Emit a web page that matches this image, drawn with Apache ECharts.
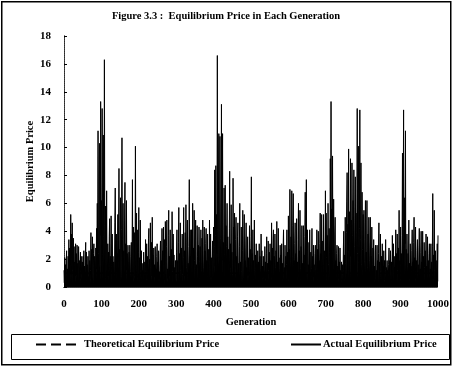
<!DOCTYPE html>
<html>
<head>
<meta charset="utf-8">
<script src="https://cdn.jsdelivr.net/npm/echarts@6/dist/echarts.min.js"></script>
<style>
  html, body { margin: 0; padding: 0; background: #fff; }
  #chart { width: 452px; height: 366px; }
</style>
</head>
<body>
<div id="chart"></div>
<script>
// axis ticks
const generationTicks = [0, 100, 200, 300, 400, 500, 600, 700, 800, 900, 1000];
const priceTicks = [0, 2, 4, 6, 8, 10, 12, 14, 16, 18];

// theoretical equilibrium price (flat)
const theoreticalPrice = 1.0;

// actual equilibrium price, generation 0..1000
const actualPrice = [
  1.2, 0.3, 2.1, 0.5, 1.6, 0.2, 1.9, 2.6, 0.4, 1.3, 0.2, 2.2, 0.6, 3.4, 0.3, 2.8, 1.1, 0.2, 5.2, 0.9,
  3.8, 0.4, 4.6, 1.2, 0.3, 3.5, 0.6, 2.9, 0.2, 1.8, 0.8, 3.1, 0.3, 2.4, 0.9, 3.0, 0.4, 1.7, 0.2, 2.9,
  2.8, 0.3, 1.9, 0.6, 2.5, 0.2, 2.2, 1.0, 0.5, 1.8, 0.3, 2.2, 0.7, 2.6, 0.2, 1.5, 0.4, 2.3, 3.2, 0.6,
  2.5, 0.4, 1.6, 0.3, 2.2, 0.8, 0.2, 2.6, 0.5, 1.9, 0.2, 1.2, 3.9, 0.6, 2.7, 0.3, 3.6, 1.0, 0.2, 2.4,
  3.1, 0.4, 2.2, 1.5, 0.3, 2.8, 0.6, 4.2, 1.3, 6.0, 0.5, 11.2, 2.4, 0.8, 7.9, 10.3, 1.6, 0.4, 13.3, 3.7,
  6.2, 0.9, 12.8, 2.3, 0.5, 10.9, 3.6, 1.2, 16.3, 4.4, 0.3, 5.8, 2.1, 0.7, 6.9, 1.4, 0.2, 3.1, 0.8, 2.5,
  0.4, 3.6, 4.9, 0.6, 2.2, 0.3, 5.1, 1.5, 0.2, 3.8, 0.7, 2.2, 0.4, 1.8, 0.9, 0.3, 4.6, 7.1, 0.5, 2.9,
  3.8, 0.3, 2.4, 1.1, 5.2, 0.4, 3.3, 8.5, 0.6, 2.7, 0.2, 6.4, 1.3, 0.5, 4.1, 10.7, 0.8, 3.4, 6.0, 0.3,
  2.6, 0.5, 4.8, 7.5, 0.4, 3.1, 1.2, 6.2, 0.3, 2.4, 0.7, 3.0, 0.2, 1.8, 2.5, 0.4, 3.0, 1.1, 0.3, 2.2,
  3.2, 0.4, 1.9, 7.7, 0.6, 2.8, 4.3, 0.3, 1.5, 3.9, 0.8, 10.1, 2.6, 0.4, 5.3, 1.2, 0.3, 4.1, 0.7, 2.5,
  5.7, 0.5, 2.1, 0.3, 4.8, 1.3, 0.4, 2.6, 0.2, 1.7, 0.6, 1.2, 0.3, 2.5, 0.9, 0.2, 1.8, 0.5, 3.4, 1.0,
  0.3, 3.1, 0.6, 2.2, 0.4, 1.7, 3.5, 4.2, 0.5, 2.0, 0.3, 4.6, 1.4, 0.4, 3.2, 0.8, 5.0, 0.3, 2.3, 0.6,
  2.8, 0.3, 1.6, 0.7, 2.9, 0.2, 1.3, 0.5, 2.2, 3.1, 0.4, 1.8, 0.3, 2.6, 0.6, 1.1, 0.3, 2.4, 3.3, 0.5,
  1.9, 0.4, 4.2, 0.7, 2.6, 0.3, 4.3, 1.5, 0.5, 3.4, 0.2, 4.7, 1.8, 0.4, 2.9, 4.8, 0.6, 1.3, 0.3, 3.7,
  5.5, 0.4, 2.2, 0.8, 4.1, 0.3, 1.6, 2.7, 0.5, 5.4, 1.1, 0.3, 3.8, 0.6, 2.3, 0.2, 1.4, 0.4, 1.9, 0.7,
  0.3, 2.5, 4.1, 0.6, 1.9, 0.4, 3.2, 5.7, 0.5, 2.4, 0.3, 4.6, 1.2, 0.4, 2.8, 0.2, 3.8, 0.9, 0.3, 2.1,
  5.7, 0.4, 2.6, 0.8, 3.9, 0.3, 5.9, 1.4, 0.5, 3.2, 4.8, 0.3, 1.7, 0.6, 2.9, 7.7, 0.4, 2.2, 0.7, 4.1,
  0.3, 4.1, 1.5, 0.4, 6.0, 0.6, 2.8, 0.3, 5.5, 1.9, 0.5, 3.3, 4.8, 0.4, 1.6, 0.3, 4.4, 2.2, 0.5, 3.0,
  0.4, 4.3, 1.8, 0.3, 2.9, 0.6, 4.1, 1.2, 0.4, 3.5, 0.3, 4.8, 2.0, 0.5, 1.4, 4.3, 0.3, 2.6, 0.7, 3.1,
  4.2, 0.4, 1.9, 0.3, 3.8, 1.1, 0.5, 2.7, 0.3, 4.8, 1.6, 0.4, 3.8, 0.7, 2.1, 0.3, 1.5, 3.3, 0.5, 2.4,
  4.3, 0.6, 2.9, 8.4, 1.5, 3.7, 8.7, 0.9, 5.2, 2.4, 16.6, 4.1, 1.3, 6.6, 11.0, 2.8, 0.8, 10.8, 3.5, 1.6,
  5.4, 13.1, 1.9, 4.6, 11.0, 0.9, 3.2, 0.6, 7.1, 2.3, 0.5, 7.3, 1.7, 4.4, 0.4, 2.9, 6.0, 0.8, 3.6, 0.3,
  2.7, 0.5, 4.2, 8.3, 0.7, 3.1, 1.4, 5.9, 0.4, 2.5, 0.9, 0.3, 7.8, 1.6, 4.3, 0.5, 5.3, 1.2, 0.3, 3.4,
  5.0, 0.4, 2.2, 0.8, 3.6, 4.6, 0.3, 1.7, 0.6, 2.9, 6.0, 0.4, 1.8, 0.5, 4.3, 1.1, 0.3, 2.6, 5.5, 0.7,
  0.4, 3.3, 5.2, 0.6, 1.9, 0.3, 2.8, 4.6, 0.5, 1.4, 0.3, 3.6, 0.8, 2.1, 0.4, 1.5, 4.4, 0.6, 2.7, 0.3,
  3.6, 7.9, 0.5, 2.4, 0.8, 4.1, 0.3, 1.9, 0.6, 4.8, 1.2, 0.4, 2.3, 0.3, 3.1, 0.7, 1.6, 0.3, 2.6, 0.5,
  1.8, 0.3, 3.1, 0.6, 2.2, 0.4, 1.3, 3.8, 0.5, 2.6, 0.3, 1.5, 0.7, 2.2, 0.4, 1.1, 0.3, 2.9, 0.6, 1.8,
  0.4, 2.4, 3.6, 0.5, 1.7, 0.3, 3.3, 1.2, 0.4, 2.5, 0.6, 3.1, 0.3, 1.9, 0.7, 4.6, 0.4, 2.8, 0.3, 3.5,
  4.1, 0.5, 2.2, 0.3, 3.8, 1.4, 0.4, 2.6, 0.6, 4.7, 0.3, 1.8, 0.5, 4.2, 0.8, 2.1, 0.3, 1.3, 3.0, 0.5,
  2.3, 0.4, 3.1, 0.6, 1.7, 0.3, 2.8, 4.1, 0.5, 1.4, 0.3, 3.0, 0.7, 2.2, 0.4, 1.6, 4.1, 0.5, 2.5, 0.3,
  5.1, 0.6, 2.7, 0.4, 7.0, 1.8, 0.5, 3.6, 0.3, 6.9, 2.2, 0.6, 4.4, 6.7, 0.4, 1.9, 0.3, 3.1, 4.6, 0.5,
  2.4, 0.4, 4.9, 0.7, 1.8, 0.3, 3.4, 6.0, 0.5, 2.6, 0.4, 5.5, 1.3, 0.3, 2.9, 0.6, 4.4, 0.4, 1.7, 0.3,
  4.4, 0.5, 2.3, 0.3, 3.6, 6.8, 0.6, 1.5, 7.7, 0.4, 2.2, 4.1, 0.3, 1.6, 0.7, 3.2, 0.4, 4.1, 1.1, 0.3,
  2.5, 0.4, 1.3, 4.2, 0.5, 2.2, 0.3, 3.0, 0.7, 1.6, 0.3, 2.4, 3.0, 0.5, 1.2, 0.3, 4.1, 0.6, 2.7, 0.4,
  4.0, 0.3, 1.9, 0.6, 3.1, 5.3, 0.4, 2.4, 0.3, 5.2, 1.5, 0.5, 3.3, 0.3, 5.2, 1.8, 0.4, 2.6, 0.5, 6.9,
  0.6, 5.3, 2.1, 0.4, 3.7, 0.8, 6.0, 1.6, 0.4, 4.2, 2.5, 0.5, 9.2, 3.1, 13.3, 1.2, 5.6, 0.7, 9.4, 2.3,
  0.5, 6.3, 1.4, 0.3, 3.8, 5.0, 0.6, 1.9, 0.3, 2.4, 3.0, 0.4, 1.5, 0.6, 2.9, 0.3, 1.8, 0.5, 2.8, 0.4,
  1.2, 0.3, 1.8, 0.5, 0.9, 1.6, 0.4, 2.8, 4.0, 0.6, 2.3, 0.4, 5.0, 1.7, 0.5, 3.9, 6.1, 8.2, 0.8, 4.5,
  2.6, 9.9, 0.7, 5.4, 3.1, 0.6, 9.2, 2.2, 4.8, 0.5, 8.9, 3.7, 1.3, 6.2, 0.6, 8.4, 2.9, 0.4, 4.6, 7.9,
  1.5, 5.3, 0.8, 3.9, 12.8, 2.4, 0.7, 6.6, 10.1, 1.8, 4.2, 12.7, 0.9, 3.4, 8.9, 1.6, 0.5, 6.8, 2.7, 0.6,
  5.2, 0.4, 5.5, 1.8, 0.5, 3.4, 6.2, 0.6, 2.5, 0.3, 6.2, 1.4, 0.5, 3.8, 0.3, 5.0, 1.9, 0.4, 2.8, 5.0,
  0.5, 2.2, 0.3, 4.3, 1.6, 0.4, 2.8, 0.6, 3.4, 0.3, 1.5, 0.5, 2.6, 3.0, 0.4, 1.2, 0.3, 3.0, 0.7, 1.9,
  0.3, 2.4, 4.6, 0.5, 1.8, 0.3, 3.8, 1.1, 0.4, 2.2, 0.3, 3.1, 0.6, 1.5, 0.3, 2.6, 0.5, 1.9, 0.3, 1.2,
  3.4, 0.6, 1.4, 0.5, 1.9, 0.7, 1.2, 0.6, 1.6, 2.8, 0.5, 1.9, 0.4, 2.6, 1.0, 0.3, 1.8, 0.5, 3.7, 0.4,
  1.6, 3.1, 0.3, 2.2, 0.5, 1.4, 0.3, 4.1, 0.6, 2.4, 0.4, 3.8, 1.2, 0.3, 2.8, 0.5, 5.5, 0.4, 1.9, 0.3,
  4.3, 0.6, 2.4, 0.5, 3.7, 9.6, 1.3, 4.8, 12.7, 2.2, 0.6, 6.4, 3.1, 11.2, 0.9, 2.7, 0.4, 3.8, 1.5, 0.3,
  2.4, 0.5, 4.8, 0.3, 1.7, 0.6, 3.1, 0.4, 1.5, 0.3, 2.6, 4.1, 0.5, 1.8, 0.3, 3.2, 5.0, 0.4, 2.1, 0.6,
  4.3, 0.3, 1.9, 0.5, 2.6, 3.4, 0.4, 1.6, 0.3, 2.8, 4.2, 0.5, 1.3, 0.3, 2.5, 4.0, 0.6, 1.8, 0.4, 4.0,
  0.5, 2.2, 0.3, 3.2, 1.4, 0.4, 2.6, 0.3, 3.8, 0.7, 1.5, 0.4, 3.6, 0.3, 1.9, 0.5, 2.4, 3.1, 0.4, 1.3,
  0.3, 3.1, 0.5, 1.8, 0.4, 2.9, 6.7, 0.6, 2.3, 0.3, 5.5, 1.2, 0.4, 2.6, 0.3, 1.9, 0.5, 1.4, 3.1, 0.4,
  3.7
];

const seriesNames = ['Theoretical Equilibrium Price', 'Actual Equilibrium Price'];

const FONT = 'Liberation Serif, Times New Roman, serif';
const textBold = { fontFamily: FONT, fontWeight: 'bold', color: '#000' };

const chart = echarts.init(document.getElementById('chart'), null, { renderer: 'canvas' });

const xMin = generationTicks[0];
const xMax = generationTicks[generationTicks.length - 1];
const yMin = priceTicks[0];
const yMax = priceTicks[priceTicks.length - 1];

// legend: plain line samples, no marker
const legendBase = {
  top: 339,
  padding: 0,
  itemHeight: 2,
  itemStyle: { opacity: 0 },
  textStyle: { ...textBold, fontSize: 10.5 }
};

const option = {
  backgroundColor: '#fff',
  animation: false,
  title: {
    text: 'Figure 3.3 :  Equilibrium Price in Each Generation',
    left: 'center',
    top: 6,
    textStyle: { ...textBold, fontSize: 10.5 }
  },
  grid: { left: 64, right: 14, top: 36, bottom: 79, containLabel: false },
  legend: [
    { ...legendBase, data: [seriesNames[0]], left: 35, itemWidth: 40,
      textStyle: { ...legendBase.textStyle, padding: [0, 0, 0, 3] } },
    { ...legendBase, data: [seriesNames[1]], left: 290, itemWidth: 30,
      textStyle: { ...legendBase.textStyle, padding: [0, 0, 0, -3] } }
  ],
  xAxis: [
    {
      type: 'value',
      min: xMin,
      max: xMax,
      interval: 100,
      name: 'Generation',
      nameLocation: 'middle',
      nameGap: 30,
      nameTextStyle: { ...textBold, fontSize: 10.5 },
      axisLine: { show: true, lineStyle: { color: '#000', width: 1, type: 'dotted' } },
      axisTick: { show: false },
      axisLabel: { ...textBold, fontSize: 11, margin: 12, formatter: v => String(v) },
      splitLine: { show: false }
    },
    {
      type: 'value',
      position: 'top',
      min: xMin,
      max: xMax,
      axisLine: { show: true, lineStyle: { color: '#444', width: 1, type: 'dotted' } },
      axisTick: { show: false },
      axisLabel: { show: false },
      splitLine: { show: false }
    }
  ],
  yAxis: [
    {
      type: 'value',
      min: yMin,
      max: yMax,
      interval: 2,
      name: 'Equilibrium Price',
      nameLocation: 'middle',
      nameGap: 28,
      nameMoveOverlap: false,
      nameTextStyle: { ...textBold, fontSize: 10.5 },
      axisLine: { show: true, lineStyle: { color: '#000', width: 1 } },
      axisTick: { show: true, inside: true, length: 3, lineStyle: { color: '#000' } },
      axisLabel: { ...textBold, fontSize: 11, margin: 13 },
      splitLine: { show: false }
    },
    {
      type: 'value',
      position: 'right',
      min: yMin,
      max: yMax,
      axisLine: { show: true, lineStyle: { color: '#444', width: 1, type: 'dotted' } },
      axisTick: { show: false },
      axisLabel: { show: false },
      splitLine: { show: false }
    }
  ],
  series: [
    {
      name: seriesNames[0],
      type: 'line',
      xAxisIndex: 0,
      yAxisIndex: 0,
      symbol: 'none',
      z: 1,
      data: [[xMin, theoreticalPrice], [xMax, theoreticalPrice]],
      lineStyle: { color: '#000', width: 1.2, type: [10, 5] },
      itemStyle: { color: '#000' }
    },
    {
      name: seriesNames[1],
      type: 'line',
      xAxisIndex: 0,
      yAxisIndex: 0,
      symbol: 'none',
      z: 2,
      data: actualPrice.map((v, i) => [i, v]),
      lineStyle: { color: '#000', width: 1 },
      itemStyle: { color: '#000' },
      areaStyle: { color: '#000', opacity: 1 }
    }
  ],
  graphic: [
    {
      type: 'rect',
      left: 1, top: 1,
      shape: { x: 0, y: 0, width: 449, height: 363 },
      style: { fill: 'transparent', stroke: '#000', lineWidth: 1.5 },
      silent: true
    },
    {
      type: 'rect',
      shape: { x: 11.5, y: 334.5, width: 438, height: 25 },
      style: { fill: 'transparent', stroke: '#000', lineWidth: 1 },
      silent: true
    }
  ]
};

chart.setOption(option);
</script>
</body>
</html>
